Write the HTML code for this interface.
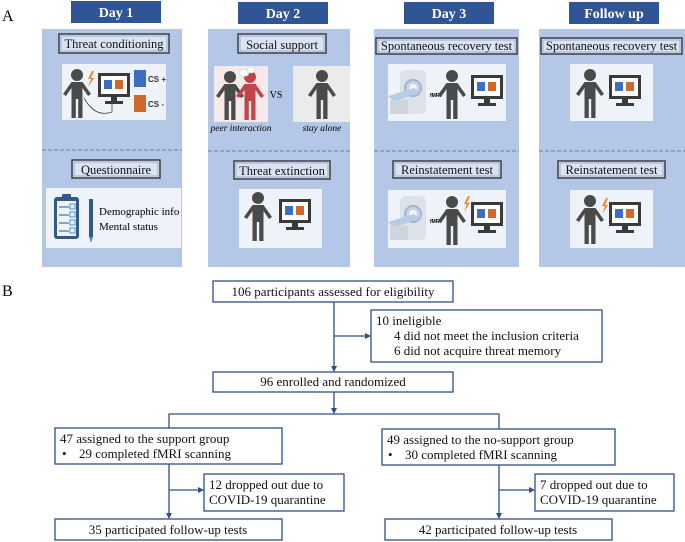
<!DOCTYPE html>
<html><head><meta charset="utf-8"><style>
html,body{margin:0;padding:0;background:#fff;}
svg{display:block;font-family:"Liberation Serif",serif;}
</style></head><body>
<svg width="685" height="542" viewBox="0 0 685 542" xmlns="http://www.w3.org/2000/svg">
<defs>
<g id="person">
<circle cx="0" cy="-20" r="6" fill="#4a4a4a"/>
<path d="M-5.5,-13 H5.5 L14,-1 L11,1 L5.5,-7 V23 H1.2 V4 H-1.2 V23 H-5.5 V-7 L-11,1 L-14,-1 Z" fill="#4a4a4a"/>
</g>
<g id="monitor">
<rect x="-16" y="-16" width="32" height="24" fill="#3a3a3a"/>
<rect x="-13" y="-13" width="26" height="18" fill="#fff"/>
<rect x="-10" y="-9" width="8" height="9" fill="#3c6fc4"/>
<rect x="1" y="-9" width="8" height="9" fill="#d0682e"/>
<rect x="-3" y="8" width="6" height="4" fill="#3a3a3a"/>
<rect x="-9" y="12" width="18" height="3" fill="#3a3a3a"/>
</g>
<g id="mri">
<rect x="0" y="0" width="26" height="44" rx="6" fill="#dde2e8"/>
<circle cx="13" cy="18" r="8" fill="#c9d3df" stroke="#9fb5d4" stroke-width="2"/>
<circle cx="13" cy="18" r="4" fill="#f3f5f8"/>
<path d="M-12,26 L14,18 L20,22 L-6,32 Z" fill="#b6cde6"/>
<rect x="-10" y="30" width="18" height="14" fill="#cfd5dc"/>
</g>
<g id="bolt"><path d="M2,-8 L-2,0 L1,0 L-2,8 L4,-1 L1,-1 L4,-8 Z" fill="#f08a24"/></g>
<marker id="ar" markerWidth="6" markerHeight="6" refX="5" refY="3" orient="auto" markerUnits="userSpaceOnUse"><path d="M0,0 L6,3 L0,6 Z" fill="#2f4f8a"/></marker>
</defs>

<text x="2" y="21" font-size="16">A</text>
<text x="2" y="296" font-size="16">B</text>

<g fill="#b4c7e7">
<rect x="42" y="29" width="140" height="238"/>
<rect x="208" y="29" width="142" height="238"/>
<rect x="374" y="29" width="145" height="238"/>
<rect x="539" y="29" width="146" height="238"/>
</g>
<g stroke="#6b7f9e" stroke-width="1" stroke-dasharray="4,2">
<line x1="42" y1="150" x2="182" y2="150"/><line x1="208" y1="151" x2="350" y2="151"/>
<line x1="374" y1="151" x2="519" y2="151"/><line x1="539" y1="151" x2="685" y2="151"/>
</g>
<g fill="#2f5597">
<rect x="71" y="1" width="90" height="22"/><rect x="238" y="2" width="90" height="22"/>
<rect x="404" y="2" width="90" height="22"/><rect x="569" y="2" width="90" height="22"/>
</g>
<g fill="#fff" font-size="14" font-weight="bold" text-anchor="middle">
<text x="116" y="17">Day 1</text><text x="283" y="18">Day 2</text>
<text x="449" y="18">Day 3</text><text x="614" y="18">Follow up</text>
</g>
<g fill="#dae3f3" stroke="#3b3f48" stroke-width="1.5">
<rect x="59" y="34" width="110" height="19"/>
<rect x="238" y="34" width="88" height="19"/>
<rect x="376" y="38" width="141" height="16"/>
<rect x="541" y="38" width="141" height="16"/>
<rect x="72" y="160" width="88" height="18"/>
<rect x="234" y="161" width="96" height="18"/>
<rect x="393" y="161" width="108" height="17"/>
<rect x="558" y="161" width="107" height="17"/>
</g>
<g fill="none" stroke="#8a96aa" stroke-width="0.7">
<rect x="61" y="36" width="106" height="15"/><rect x="240" y="36" width="84" height="15"/>
<rect x="378" y="40" width="137" height="12"/><rect x="543" y="40" width="137" height="12"/>
<rect x="74" y="162" width="84" height="14"/><rect x="236" y="163" width="92" height="14"/>
<rect x="395" y="163" width="104" height="13"/><rect x="560" y="163" width="103" height="13"/>
</g>
<g font-size="12.5" text-anchor="middle" fill="#111">
<text x="114" y="48">Threat conditioning</text>
<text x="282" y="49">Social support</text>
<text x="446.5" y="50">Spontaneous recovery test</text>
<text x="611.5" y="50">Spontaneous recovery test</text>
<text x="116" y="174">Questionnaire</text>
<text x="282" y="175">Threat extinction</text>
<text x="447" y="174">Reinstatement test</text>
<text x="611.5" y="174">Reinstatement test</text>
</g>
<g fill="#eef3fa">
<rect x="62" y="64" width="104" height="56"/>
<rect x="46" y="188" width="135" height="60"/>
<rect x="214" y="66" width="54" height="56" fill="#f6e9e9"/>
<rect x="293" y="66" width="57" height="56" fill="#ebebeb"/>
<rect x="239" y="189" width="83" height="59"/>
<rect x="388" y="64" width="118" height="57"/>
<rect x="388" y="190" width="118" height="58"/>
<rect x="570" y="64" width="83" height="57"/>
<rect x="570" y="190" width="83" height="58"/>
</g>
<use href="#person" x="77" y="95"/>
<use href="#bolt" x="90" y="79"/>
<use href="#monitor" x="114" y="89"/>
<path d="M84,98 Q95,118 112,112 L112,104" fill="none" stroke="#444" stroke-width="0.8"/>
<rect x="134" y="70" width="12" height="17" fill="#3c6fc4"/>
<rect x="134" y="95" width="12" height="17" fill="#d0682e"/>
<text x="148" y="82" font-size="8" font-family="Liberation Sans" font-weight="bold" fill="#333">CS +</text>
<text x="148" y="107" font-size="8" font-family="Liberation Sans" font-weight="bold" fill="#333">CS -</text>
<rect x="54" y="197" width="25" height="42" rx="3" fill="#355a82"/>
<rect x="57" y="201" width="19" height="35" fill="#eef3fa"/>
<rect x="62" y="194" width="9" height="5" rx="1" fill="#355a82"/>
<g stroke="#4f8fd0" stroke-width="1.5"><line x1="59" y1="207" x2="69" y2="207"/><line x1="59" y1="215" x2="69" y2="215"/><line x1="59" y1="223" x2="69" y2="223"/><line x1="59" y1="231" x2="69" y2="231"/></g>
<g fill="none" stroke="#4f8fd0" stroke-width="1"><rect x="70" y="204" width="5" height="5"/><rect x="70" y="212" width="5" height="5"/><rect x="70" y="220" width="5" height="5"/><rect x="70" y="228" width="5" height="5"/></g>
<rect x="89" y="199" width="4" height="38" fill="#355a82"/>
<path d="M89,237 L93,237 L91,243 Z" fill="#4f8fd0"/>
<text x="99" y="215" font-size="11">Demographic info</text>
<text x="99" y="230" font-size="11">Mental status</text>
<use href="#person" x="230" y="97"/>
<g transform="translate(250,97)"><circle cx="0" cy="-20" r="6" fill="#c0444a"/><path d="M-5.5,-13 H5.5 L14,-1 L11,1 L5.5,-7 V23 H1.2 V4 H-1.2 V23 H-5.5 V-7 L-11,1 L-14,-1 Z" fill="#c0444a"/></g>
<ellipse cx="244" cy="73" rx="5" ry="3.5" fill="#fff" stroke="#ccc" stroke-width="0.6"/>
<ellipse cx="251" cy="70" rx="4" ry="3" fill="#fff" stroke="#ccc" stroke-width="0.6"/>
<text x="241" y="131" font-size="9.5" font-style="italic" text-anchor="middle">peer interaction</text>
<text x="276" y="98" font-size="10" text-anchor="middle">VS</text>
<use href="#person" x="322" y="96"/>
<text x="322" y="131" font-size="9.5" font-style="italic" text-anchor="middle">stay alone</text>
<use href="#person" x="258" y="218"/>
<use href="#monitor" x="295" y="215"/>
<use href="#mri" x="400" y="70"/>
<text x="430" y="97" font-size="5" font-family="Liberation Sans" font-weight="bold">fMRI</text>
<use href="#person" x="452" y="96"/>
<use href="#monitor" x="487" y="91"/>
<use href="#mri" x="400" y="196"/>
<text x="430" y="223" font-size="5" font-family="Liberation Sans" font-weight="bold">fMRI</text>
<use href="#person" x="452" y="222"/>
<use href="#bolt" x="466" y="204"/>
<use href="#monitor" x="487" y="218"/>
<use href="#person" x="590" y="95"/>
<use href="#monitor" x="625" y="91"/>
<use href="#person" x="590" y="221"/>
<use href="#bolt" x="604" y="206"/>
<use href="#monitor" x="625" y="218"/>

<g fill="#fff" stroke="#2f4f8a" stroke-width="1.3">
<rect x="213" y="281" width="240" height="21"/>
<rect x="371" y="310" width="231" height="52"/>
<rect x="213" y="372" width="240" height="20"/>
<rect x="55" y="428" width="227" height="36"/>
<rect x="382" y="429" width="233" height="36"/>
<rect x="204" y="474" width="140" height="37"/>
<rect x="535" y="474" width="139" height="37"/>
<rect x="55" y="519" width="227" height="21"/>
<rect x="385" y="519" width="227" height="21"/>
</g>
<g stroke="#2f4f8a" stroke-width="1.3" fill="none">
<line x1="334" y1="302" x2="334" y2="371" marker-end="url(#ar)"/>
<line x1="334" y1="336" x2="370" y2="336" marker-end="url(#ar)"/>
<line x1="334" y1="392" x2="334" y2="413" marker-end="url(#ar)"/>
<polyline points="169,428 169,414 499,414 499,429"/>
<line x1="169" y1="464" x2="169" y2="518" marker-end="url(#ar)"/>
<line x1="169" y1="490" x2="203" y2="490" marker-end="url(#ar)"/>
<line x1="499" y1="465" x2="499" y2="518" marker-end="url(#ar)"/>
<line x1="499" y1="490" x2="534" y2="490" marker-end="url(#ar)"/>
</g>
<g font-size="13" fill="#111">
<text x="333" y="296" text-anchor="middle">106 participants assessed for eligibility</text>
<text x="376" y="325">10 ineligible</text>
<text x="394" y="340">4 did not meet the inclusion criteria</text>
<text x="394" y="355">6 did not acquire threat memory</text>
<text x="333" y="386" text-anchor="middle">96 enrolled and randomized</text>
<text x="60" y="443">47 assigned to the support group</text>
<text x="62" y="458">•</text><text x="79" y="458">29 completed fMRI scanning</text>
<text x="387" y="444">49 assigned to the no-support group</text>
<text x="388" y="459">•</text><text x="405" y="459">30 completed fMRI scanning</text>
<text x="209" y="489">12 dropped out due to</text>
<text x="209" y="504">COVID-19 quarantine</text>
<text x="540" y="489">7 dropped out due to</text>
<text x="540" y="504">COVID-19 quarantine</text>
<text x="168" y="534" text-anchor="middle">35 participated follow-up tests</text>
<text x="498" y="534" text-anchor="middle">42 participated follow-up tests</text>
</g>
</svg>
</body></html>
